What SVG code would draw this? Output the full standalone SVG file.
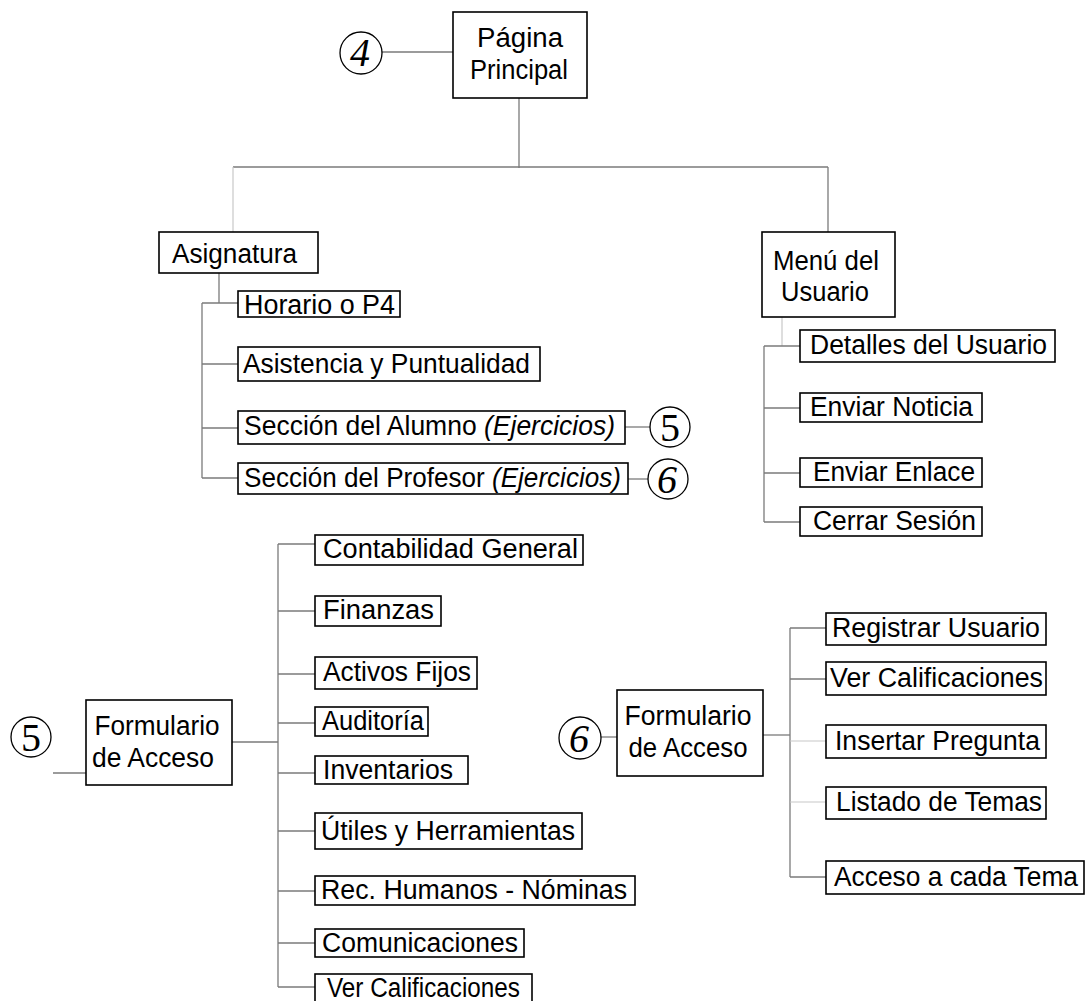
<svg xmlns="http://www.w3.org/2000/svg" width="1088" height="1001" viewBox="0 0 1088 1001">
  <style>
    .box { fill: #ffffff; stroke: #000000; stroke-width: 1.6; }
    .ln { fill: none; stroke: #7a7a7a; stroke-width: 1.3; }
    .faint { fill: none; stroke: #c8c8c8; stroke-width: 1.2; }
    .t { font-family: "Liberation Sans", Arial, sans-serif; font-size: 27px; fill: #000000; }
    .c { text-anchor: middle; }
    .ring { fill: #ffffff; stroke: #000000; stroke-width: 1.3; }
    .num { font-family: "Liberation Serif", "Times New Roman", serif; font-size: 40px; fill: #000000; text-anchor: middle; }
    .it { font-style: italic; }
  </style>
  <rect x="0" y="0" width="1088" height="1001" fill="#ffffff"/>

  <!-- connectors -->
  <g id="connectors">
    <!-- top level -->
    <line class="ln" x1="382" y1="52" x2="453" y2="52"/>
    <line class="ln" x1="519" y1="98" x2="519" y2="168"/>
    <line class="ln" x1="233" y1="167" x2="828" y2="167"/>
    <line class="faint" x1="233" y1="167" x2="233" y2="232"/>
    <line class="ln" x1="828" y1="167" x2="828" y2="232"/>
    <!-- Asignatura branch -->
    <line class="ln" x1="219" y1="273" x2="219" y2="303"/>
    <line class="ln" x1="202" y1="303" x2="238" y2="303"/>
    <line class="ln" x1="202" y1="303" x2="202" y2="478"/>
    <line class="ln" x1="202" y1="364" x2="238" y2="364"/>
    <line class="ln" x1="202" y1="428" x2="238" y2="428"/>
    <line class="ln" x1="202" y1="478" x2="238" y2="478"/>
    <line class="ln" x1="625" y1="427" x2="650" y2="427"/>
    <line class="ln" x1="628" y1="479" x2="648" y2="479"/>
    <!-- Menu branch -->
    <line class="faint" x1="782" y1="317" x2="782" y2="346"/>
    <line class="ln" x1="764" y1="346" x2="800" y2="346"/>
    <line class="ln" x1="764" y1="346" x2="764" y2="522"/>
    <line class="ln" x1="764" y1="408" x2="800" y2="408"/>
    <line class="ln" x1="764" y1="473" x2="800" y2="473"/>
    <line class="ln" x1="764" y1="522" x2="800" y2="522"/>
    <!-- access form (5) -->
    <line class="ln" x1="53" y1="773" x2="86" y2="773"/>
    <line class="ln" x1="232" y1="742" x2="278" y2="742"/>
    <line class="ln" x1="278" y1="544" x2="278" y2="987"/>
    <line class="ln" x1="278" y1="544" x2="315" y2="544"/>
    <line class="ln" x1="278" y1="611" x2="315" y2="611"/>
    <line class="ln" x1="278" y1="674" x2="315" y2="674"/>
    <line class="ln" x1="278" y1="723" x2="315" y2="723"/>
    <line class="ln" x1="278" y1="773" x2="315" y2="773"/>
    <line class="ln" x1="278" y1="831" x2="315" y2="831"/>
    <line class="ln" x1="278" y1="891" x2="315" y2="891"/>
    <line class="ln" x1="278" y1="943" x2="315" y2="943"/>
    <line class="ln" x1="278" y1="987" x2="315" y2="987"/>
    <!-- access form (6) -->
    <line class="ln" x1="601" y1="737" x2="617" y2="737"/>
    <line class="ln" x1="763" y1="735" x2="790" y2="735"/>
    <line class="ln" x1="790" y1="628" x2="790" y2="877"/>
    <line class="ln" x1="790" y1="628" x2="826" y2="628"/>
    <line class="ln" x1="790" y1="679" x2="826" y2="679"/>
    <line class="faint" x1="790" y1="741" x2="826" y2="741"/>
    <line class="faint" x1="790" y1="802" x2="826" y2="802"/>
    <line class="ln" x1="790" y1="877" x2="826" y2="877"/>
  </g>

  <!-- top -->
  <g id="ref-4">
    <circle class="ring" cx="361" cy="53" r="21"/>
    <text class="num it" x="360" y="66">4</text>
  </g>
  <g id="pagina-principal">
    <rect class="box" x="453" y="12" width="134" height="86"/>
    <text class="t c" x="520" y="47" textLength="86" lengthAdjust="spacingAndGlyphs">Página</text>
    <text class="t c" x="519" y="79" textLength="98" lengthAdjust="spacingAndGlyphs">Principal</text>
  </g>

  <!-- Asignatura -->
  <g id="asignatura">
    <rect class="box" x="159" y="232" width="159" height="41"/>
    <text class="t" x="172" y="263" textLength="125" lengthAdjust="spacingAndGlyphs">Asignatura</text>
  </g>
  <g id="horario">
    <rect class="box" x="238" y="291" width="162" height="26"/>
    <text class="t" x="244" y="314" textLength="151" lengthAdjust="spacingAndGlyphs">Horario o P4</text>
  </g>
  <g id="asistencia">
    <rect class="box" x="238" y="347" width="302" height="34"/>
    <text class="t" x="243" y="373" textLength="287" lengthAdjust="spacingAndGlyphs">Asistencia y Puntualidad</text>
  </g>
  <g id="seccion-alumno">
    <rect class="box" x="238" y="411" width="387" height="33"/>
    <text class="t" x="244" y="435" textLength="371" lengthAdjust="spacingAndGlyphs">Sección del Alumno <tspan class="it">(Ejercicios)</tspan></text>
  </g>
  <g id="seccion-profesor">
    <rect class="box" x="238" y="463" width="390" height="31"/>
    <text class="t" x="244" y="487" textLength="377" lengthAdjust="spacingAndGlyphs">Sección del Profesor <tspan class="it">(Ejercicios)</tspan></text>
  </g>
  <g id="ref-5-small">
    <circle class="ring" cx="670" cy="427" r="20"/>
    <text class="num" x="670" y="441">5</text>
  </g>
  <g id="ref-6-small">
    <circle class="ring" cx="668" cy="479" r="20"/>
    <text class="num it" x="667" y="493">6</text>
  </g>

  <!-- Menu del Usuario -->
  <g id="menu-usuario">
    <rect class="box" x="762" y="232" width="133" height="85"/>
    <text class="t c" x="826" y="270" textLength="106" lengthAdjust="spacingAndGlyphs">Menú del</text>
    <text class="t c" x="825" y="301" textLength="88" lengthAdjust="spacingAndGlyphs">Usuario</text>
  </g>
  <g id="detalles-usuario">
    <rect class="box" x="800" y="330" width="255" height="32"/>
    <text class="t" x="810" y="354" textLength="237" lengthAdjust="spacingAndGlyphs">Detalles del Usuario</text>
  </g>
  <g id="enviar-noticia">
    <rect class="box" x="800" y="393" width="182" height="29"/>
    <text class="t" x="810" y="416" textLength="163" lengthAdjust="spacingAndGlyphs">Enviar Noticia</text>
  </g>
  <g id="enviar-enlace">
    <rect class="box" x="800" y="458" width="182" height="29"/>
    <text class="t" x="813" y="481" textLength="162" lengthAdjust="spacingAndGlyphs">Enviar Enlace</text>
  </g>
  <g id="cerrar-sesion">
    <rect class="box" x="800" y="507" width="182" height="29"/>
    <text class="t" x="813" y="530" textLength="163" lengthAdjust="spacingAndGlyphs">Cerrar Sesión</text>
  </g>

  <!-- Formulario de Acceso (5) -->
  <g id="ref-5">
    <circle class="ring" cx="31" cy="737" r="20"/>
    <text class="num" x="31" y="751">5</text>
  </g>
  <g id="formulario-5">
    <rect class="box" x="86" y="700" width="146" height="85"/>
    <text class="t c" x="157" y="735" textLength="125" lengthAdjust="spacingAndGlyphs">Formulario</text>
    <text class="t c" x="153" y="767" textLength="122" lengthAdjust="spacingAndGlyphs">de Acceso</text>
  </g>
  <g id="contabilidad">
    <rect class="box" x="315" y="535" width="268" height="30"/>
    <text class="t" x="323" y="558" textLength="255" lengthAdjust="spacingAndGlyphs">Contabilidad General</text>
  </g>
  <g id="finanzas">
    <rect class="box" x="315" y="596" width="126" height="30"/>
    <text class="t" x="323" y="619" textLength="111" lengthAdjust="spacingAndGlyphs">Finanzas</text>
  </g>
  <g id="activos">
    <rect class="box" x="315" y="657" width="162" height="32"/>
    <text class="t" x="323" y="681" textLength="148" lengthAdjust="spacingAndGlyphs">Activos Fijos</text>
  </g>
  <g id="auditoria">
    <rect class="box" x="315" y="707" width="113" height="29"/>
    <text class="t" x="322" y="730" textLength="102" lengthAdjust="spacingAndGlyphs">Auditoría</text>
  </g>
  <g id="inventarios">
    <rect class="box" x="315" y="756" width="153" height="28"/>
    <text class="t" x="323" y="779" textLength="130" lengthAdjust="spacingAndGlyphs">Inventarios</text>
  </g>
  <g id="utiles">
    <rect class="box" x="315" y="813" width="267" height="36"/>
    <text class="t" x="321" y="840" textLength="254" lengthAdjust="spacingAndGlyphs">Útiles y Herramientas</text>
  </g>
  <g id="rec-humanos">
    <rect class="box" x="315" y="876" width="320" height="29"/>
    <text class="t" x="321" y="899" textLength="306" lengthAdjust="spacingAndGlyphs">Rec. Humanos - Nóminas</text>
  </g>
  <g id="comunicaciones">
    <rect class="box" x="315" y="929" width="209" height="28"/>
    <text class="t" x="322" y="952" textLength="196" lengthAdjust="spacingAndGlyphs">Comunicaciones</text>
  </g>
  <g id="ver-calificaciones-5">
    <rect class="box" x="315" y="974" width="217" height="30"/>
    <text class="t" x="327" y="997" textLength="193" lengthAdjust="spacingAndGlyphs">Ver Calificaciones</text>
  </g>

  <!-- Formulario de Acceso (6) -->
  <g id="ref-6">
    <circle class="ring" cx="580" cy="738" r="21"/>
    <text class="num it" x="579" y="752">6</text>
  </g>
  <g id="formulario-6">
    <rect class="box" x="617" y="690" width="146" height="86"/>
    <text class="t c" x="688" y="725" textLength="127" lengthAdjust="spacingAndGlyphs">Formulario</text>
    <text class="t c" x="688" y="757" textLength="119" lengthAdjust="spacingAndGlyphs">de Acceso</text>
  </g>
  <g id="registrar-usuario">
    <rect class="box" x="826" y="613" width="220" height="32"/>
    <text class="t" x="832" y="637" textLength="208" lengthAdjust="spacingAndGlyphs">Registrar Usuario</text>
  </g>
  <g id="ver-calificaciones-6">
    <rect class="box" x="826" y="662" width="220" height="33"/>
    <text class="t" x="830" y="687" textLength="213" lengthAdjust="spacingAndGlyphs">Ver Calificaciones</text>
  </g>
  <g id="insertar-pregunta">
    <rect class="box" x="826" y="725" width="220" height="33"/>
    <text class="t" x="835" y="750" textLength="205" lengthAdjust="spacingAndGlyphs">Insertar Pregunta</text>
  </g>
  <g id="listado-temas">
    <rect class="box" x="826" y="787" width="220" height="32"/>
    <text class="t" x="836" y="811" textLength="206" lengthAdjust="spacingAndGlyphs">Listado de Temas</text>
  </g>
  <g id="acceso-tema">
    <rect class="box" x="826" y="861" width="258" height="33"/>
    <text class="t" x="834" y="886" textLength="244" lengthAdjust="spacingAndGlyphs">Acceso a cada Tema</text>
  </g>
</svg>
